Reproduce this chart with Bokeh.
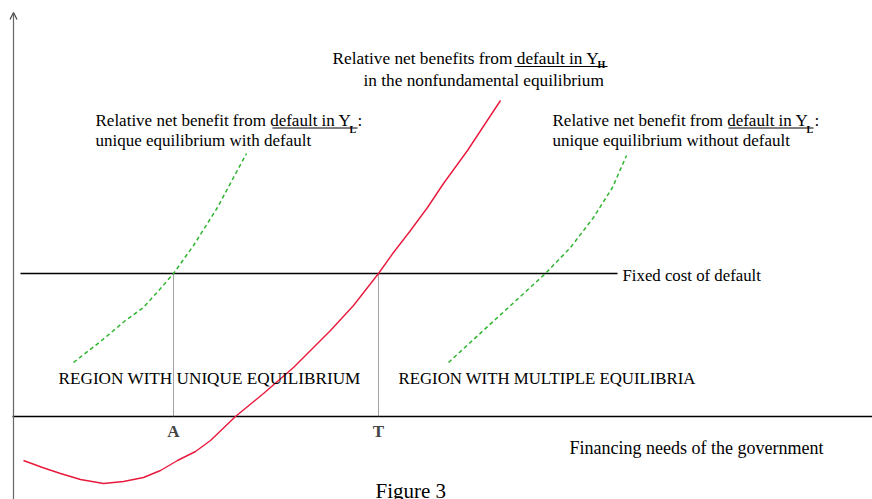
from bokeh.plotting import figure
from bokeh.models import Range1d, Label, Arrow, OpenHead
from bokeh.embed import file_html
from bokeh.resources import INLINE

# ---- data (schematic units: x = financing needs, y = relative net benefit) ----
red_x = [10, 29, 47, 67, 90, 110, 130, 147, 164, 182, 197, 222, 250, 280, 297, 317, 340, 365, 380, 397, 414, 430, 454, 487]
red_y = [-44, -51, -57, -63, -67, -65, -61, -54, -44, -35, -24, 0, 23, 49, 66, 86, 111, 143, 164, 186, 209, 233, 266, 316]

green_left_x = [60, 87, 112, 130, 147, 160, 180, 204, 220, 233]
green_left_y = [54, 75, 96, 109, 128, 143, 171, 209, 239, 263]

green_right_x = [435, 484, 532, 557, 580, 599, 613]
green_right_y = [54, 99, 143, 169, 199, 229, 261]

fixed_cost = 143
fixed_cost_x = [7, 604]
point_A = 160
point_T = 365
tick_labels = ["A", "T"]

FONT = "Liberation Serif"

p = figure(width=872, height=499,
           x_range=Range1d(-13, 859), y_range=Range1d(-83, 416),
           output_backend="svg", toolbar_location=None,
           min_border=0, min_border_left=0, min_border_right=0,
           min_border_top=0, min_border_bottom=0)
p.axis.visible = False
p.grid.visible = False
p.outline_line_color = None
p.background_fill_color = "white"
p.border_fill_color = "white"


def X(xi):
    return xi - 13


def Y(yi):
    return 416 - yi


# axes
p.line([-1, 859], [0, 0], line_color="black", line_width=1.3)
p.add_layout(Arrow(end=OpenHead(size=7, line_color="#444444", line_width=1.2),
                   x_start=0, y_start=-90, x_end=0, y_end=Y(12),
                   line_color="#666666", line_width=1.2))

# fixed cost line
p.line(fixed_cost_x, [fixed_cost, fixed_cost], line_color="black", line_width=1.3)

# dotted verticals
p.segment(x0=[point_A, point_T], y0=[0, 0], x1=[point_A, point_T],
          y1=[fixed_cost, fixed_cost], line_color="#444444", line_width=1,
          line_dash="1 1")

# curves
p.line(red_x, red_y, line_color="#e8193c", line_width=1.4, line_join="round")
p.line(green_left_x, green_left_y, line_color="#2fb52f", line_width=1.5, line_dash="4 3")
p.line(green_right_x, green_right_y, line_color="#2fb52f", line_width=1.5, line_dash="4 3")


def txt(s, xi, yi, size="17px", bold=False, align="left"):
    p.add_layout(Label(x=X(xi), y=Y(yi), text=s, text_font=FONT,
                       text_font_size=size, text_color="black",
                       text_font_style="bold" if bold else "normal",
                       text_align=align, text_baseline="middle"))


def underline(x0, x1, yi):
    p.segment(x0=[X(x0)], y0=[Y(yi)], x1=[X(x1)], y1=[Y(yi)],
              line_color="black", line_width=1)


# title label (red curve)
txt("Relative net benefits from default in Y", 332, 58, size="17.3px")
txt("H", 597, 64, size="10px", bold=True)
underline(514, 607, 66)
txt("in the nonfundamental equilibrium", 363, 80, size="17.3px")

# left label
txt("Relative net benefit from default in Y", 95, 120)
txt("L", 349, 129, size="10px", bold=True)
txt(":", 357, 120)
underline(272, 357, 127.5)
txt("unique equilibrium with default", 95, 140)

# right label
txt("Relative net benefit from default in Y", 552, 120)
txt("L", 806, 129, size="10px", bold=True)
txt(":", 814, 120)
underline(728, 813, 127.5)
txt("unique equilibrium without default", 552, 140)

txt("Fixed cost of default", 622, 275, size="16.8px")
txt("REGION WITH UNIQUE EQUILIBRIUM", 58, 378, size="17.2px")
txt("REGION WITH MULTIPLE EQUILIBRIA", 398, 378, size="16.8px")
txt("Financing needs of the government", 569, 447, size="18px")
txt("Figure 3", 375, 490, size="21px")

for lab, xv in zip(tick_labels, [point_A, point_T]):
    p.add_layout(Label(x=xv, y=Y(431), text=lab, text_font=FONT,
                       text_font_size="17px", text_font_style="bold",
                       text_align="center", text_baseline="middle"))

open("out.html", "w").write(file_html(p, INLINE))
